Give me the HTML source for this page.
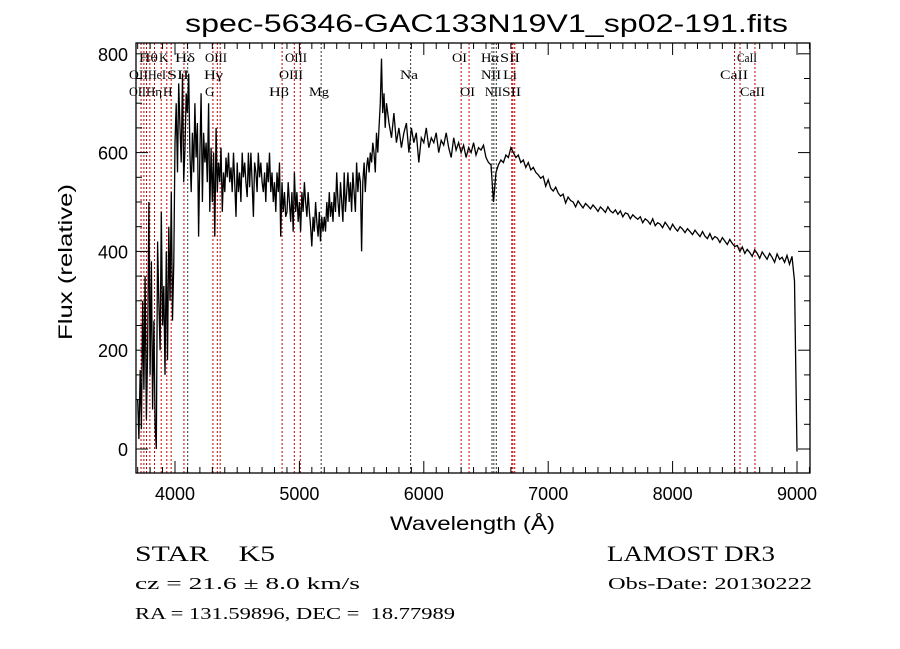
<!DOCTYPE html>
<html><head><meta charset="utf-8"><style>
html,body{margin:0;padding:0;background:#fff;}
svg{display:block;}
text{font-family:"Liberation Sans",sans-serif;fill:#000;white-space:pre;}
.lbl{font-family:"Liberation Serif",serif;font-size:13px;}
.srf{font-family:"Liberation Serif",serif;}
</style></head><body>
<svg id="chart" width="900" height="649" viewBox="0 0 900 649" xmlns="http://www.w3.org/2000/svg" xml:space="preserve">
<rect width="900" height="649" fill="#fff"/>
<text x="185" y="32" font-size="25" textLength="603" lengthAdjust="spacingAndGlyphs">spec-56346-GAC133N19V1_sp02-191.fits</text>
<g id="lines"></g>
<g id="labels">
<text class="lbl" x="139" y="62" textLength="19" lengthAdjust="spacingAndGlyphs">Hθ</text>
<text class="lbl" x="159" y="62">K</text>
<text class="lbl" x="175" y="62" textLength="20" lengthAdjust="spacingAndGlyphs">Hδ</text>
<text class="lbl" x="205" y="62" textLength="22" lengthAdjust="spacingAndGlyphs">OIII</text>
<text class="lbl" x="285" y="62" textLength="22" lengthAdjust="spacingAndGlyphs">OIII</text>
<text class="lbl" x="452" y="62" textLength="15" lengthAdjust="spacingAndGlyphs">OI</text>
<text class="lbl" x="481" y="62" textLength="18" lengthAdjust="spacingAndGlyphs">Hα</text>
<text class="lbl" x="500" y="62" textLength="20" lengthAdjust="spacingAndGlyphs">SII</text>
<text class="lbl" x="737" y="62" textLength="20" lengthAdjust="spacingAndGlyphs">CaII</text>
<text class="lbl" x="129" y="79" textLength="19" lengthAdjust="spacingAndGlyphs">OII</text>
<text class="lbl" x="148" y="79" textLength="18" lengthAdjust="spacingAndGlyphs">HeI</text>
<text class="lbl" x="167" y="79" textLength="22" lengthAdjust="spacingAndGlyphs">SII</text>
<text class="lbl" x="204" y="79" textLength="19" lengthAdjust="spacingAndGlyphs">Hγ</text>
<text class="lbl" x="279" y="79" textLength="24" lengthAdjust="spacingAndGlyphs">OIII</text>
<text class="lbl" x="400" y="79" textLength="18" lengthAdjust="spacingAndGlyphs">Na</text>
<text class="lbl" x="481" y="79" textLength="20" lengthAdjust="spacingAndGlyphs">NII</text>
<text class="lbl" x="503" y="79" textLength="14" lengthAdjust="spacingAndGlyphs">Li</text>
<text class="lbl" x="720" y="79" textLength="28" lengthAdjust="spacingAndGlyphs">CaII</text>
<text class="lbl" x="129" y="96" textLength="17" lengthAdjust="spacingAndGlyphs">OII</text>
<text class="lbl" x="146" y="96" textLength="16" lengthAdjust="spacingAndGlyphs">Hη</text>
<text class="lbl" x="163" y="96">H</text>
<text class="lbl" x="205" y="96">G</text>
<text class="lbl" x="269" y="96" textLength="20" lengthAdjust="spacingAndGlyphs">Hβ</text>
<text class="lbl" x="309" y="96" textLength="20" lengthAdjust="spacingAndGlyphs">Mg</text>
<text class="lbl" x="460" y="96" textLength="15" lengthAdjust="spacingAndGlyphs">OI</text>
<text class="lbl" x="485" y="96" textLength="17" lengthAdjust="spacingAndGlyphs">NII</text>
<text class="lbl" x="502" y="96" textLength="19" lengthAdjust="spacingAndGlyphs">SII</text>
<text class="lbl" x="740" y="96" textLength="25" lengthAdjust="spacingAndGlyphs">CaII</text>
</g>
<g id="axes"></g>
<path id="spec" fill="none" stroke="#000" stroke-width="1.3" stroke-linejoin="miter"/>
<text x="390" y="530" font-size="19" textLength="165" lengthAdjust="spacingAndGlyphs">Wavelength (Å)</text>
<text transform="translate(72,340) rotate(-90)" font-size="19" textLength="156" lengthAdjust="spacingAndGlyphs">Flux (relative)</text>
<text class="srf" x="135" y="561" font-size="22" textLength="140" lengthAdjust="spacingAndGlyphs">STAR    K5</text>
<text class="srf" x="607" y="561" font-size="22" textLength="168" lengthAdjust="spacingAndGlyphs">LAMOST DR3</text>
<text class="srf" x="135" y="589" font-size="17" textLength="225" lengthAdjust="spacingAndGlyphs">cz = 21.6 ± 8.0 km/s</text>
<text class="srf" x="608" y="589" font-size="17" textLength="204" lengthAdjust="spacingAndGlyphs">Obs-Date: 20130222</text>
<text class="srf" x="135" y="619" font-size="17" textLength="320" lengthAdjust="spacingAndGlyphs">RA = 131.59896, DEC =  18.77989</text>
</svg>
<script>
const blueStart = 3700, blueStep = 10;
const blueFlux = [100,20,160,40,300,120,350,60,200,500,150,380,80,260,50,0,420,300,200,480,250,330,150,400,180,450,300,520,260,380,
620,700,560,740,650,580,760,540,610,720,680,760,600,520,640,560,700,590,660,430,600,720,500,640,580,620,540,700,480,610,
500,600,430,650,520,580,540,610,480,560,520,590,550,600,540,570,520,600,540,470,580,520,560,500,600,550,580,540,510,600,
530,600,540,470,580,560,520,600,550,580,540,520,560,500,580,540,600,520,560,500,540,480,560,520,580,430,540,480,520,470,
480,540,500,460,520,440,560,480,520,460,500,440,520,480,540,500,470,520,480,450,410,470,440,500,460,430,480,420,470,440,
470,440,500,460,520,470,500,460,520,480,560,500,470,540,500,460,560,480,520,560,500,540,480,560,520,480,580,520,560,540,
400,540,580,520,570,590,560,600,580,620,600,560,640,600,650,700,790,680,720,650,700];
const redStart = 5720, redStep = 20;
const redFlux = [660,630,680,620,650,610,640,660,600,650,620,640,580,630,620,650,610,630,620,640,
600,625,615,640,610,590,630,605,620,600,615,590,610,600,620,595,610,605,615,590,
580,575,500,560,575,585,580,595,590,610,600,590,595,580,585,570,580,565,570,560,
555,548,552,532,545,528,522,530,518,512,516,498,510,503,500,490,502,495,488,497,
492,486,494,488,481,490,485,479,490,482,478,484,475,482,470,478,476,466,474,469,
465,470,458,466,462,455,466,452,458,455,448,459,452,444,455,447,441,450,445,438,
446,440,434,443,436,430,440,431,426,436,424,430,427,418,428,421,414,424,416,410,
412,400,409,396,404,398,390,403,396,386,399,391,384,396,388,378,395,384,388,378,
392,374,390,340,-5];
const lineWaves = [3727,3750,3771,3798,3835,3889,3934,3969,4072,4102,4305,4340,4363,4861,4959,5007,5175,5894,6300,6364,6548,6563,6583,6707,6716,6731,8498,8542,8662];
const lineRed = [1,1,1,1,1,1,1,1,1,0,1,1,1,1,1,1,0,0,1,1,0,0,0,1,1,1,1,1,1];
const xTicks = [4000,5000,6000,7000,8000,9000];
const yTicks = [0,200,400,600,800];
const NS="http://www.w3.org/2000/svg";
const L=136,R=810,T=43,B=473;
const xS=w=>175+(w-4000)*0.1244;
const yS=f=>449-f*0.494;
function mk(tag,attrs,parent){const e=document.createElementNS(NS,tag);for(const k in attrs)e.setAttribute(k,attrs[k]);parent.appendChild(e);return e;}
const lg=document.getElementById('lines');
lineWaves.forEach((w,i)=>{
  const e=mk('line',{x1:xS(w),x2:xS(w),y1:T,y2:B,stroke:lineRed[i]?'#c00000':'#333','stroke-width':1,'stroke-dasharray':'2,2'},lg);
  
  
});
const pts=[];
blueFlux.forEach((f,i)=>pts.push([blueStart+i*blueStep,f]));
redFlux.forEach((f,i)=>pts.push([redStart+i*redStep,f]));
let d='';
pts.forEach((p,i)=>{d+=(i?'L':'M')+xS(p[0]).toFixed(1)+','+yS(p[1]).toFixed(1);});
document.getElementById('spec').setAttribute('d',d);
const ax=document.getElementById('axes');
const fr=mk('rect',{x:L,y:T,width:R-L,height:B-T,fill:'none',stroke:'#000','stroke-width':1.3},ax);


for(let w=3700;w<=9100;w+=100){const big=w%1000===0;const x=xS(w);if(x<L||x>R)continue;const h=big?12:6;
 mk('line',{x1:x,x2:x,y1:B,y2:B-h,stroke:'#000'},ax);mk('line',{x1:x,x2:x,y1:T,y2:T+h,stroke:'#000'},ax);}
for(let f=-50;f<=800;f+=50){const y=yS(f);if(y<T||y>B)continue;const big=f%200===0;const h=big?12:6;
 mk('line',{x1:L,x2:L+h,y1:y,y2:y,stroke:'#000'},ax);mk('line',{x1:R,x2:R-h,y1:y,y2:y,stroke:'#000'},ax);}
xTicks.forEach(w=>{const t=mk('text',{x:xS(w),y:500,'text-anchor':'middle','font-size':18},ax);t.textContent=w;
 
 });
yTicks.forEach(f=>{const t=mk('text',{x:128,y:yS(f)+7,'text-anchor':'end','font-size':18},ax);t.textContent=f;
 
 });
</script>
</body></html>
